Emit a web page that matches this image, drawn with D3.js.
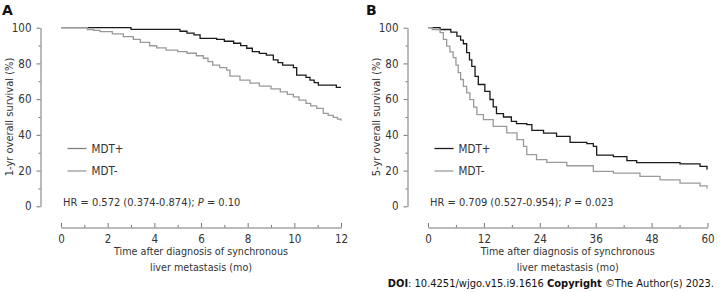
<!DOCTYPE html>
<html>
<head>
<meta charset="utf-8">
<script src="https://cdn.jsdelivr.net/npm/d3@7"></script>
<style>
  body { margin: 0; background: #fff; }
  svg text { font-family: "DejaVu Sans Condensed", "DejaVu Sans", sans-serif; fill: #333; }
</style>
</head>
<body>
<script>
/* DATA */

// panel A: 1-year overall survival
var timeA_plus = [0, 3.0, 5.1, 5.4, 5.7, 5.96, 6.67, 7.0, 7.4, 7.7, 7.96, 8.2, 8.5, 8.8, 9.1, 9.3, 9.5, 9.96, 10.1, 10.5, 10.67, 10.85, 11.03, 11.8, 12];
var survA_plus = [100, 99.1, 98, 97, 96, 94, 93.5, 92.4, 91.3, 90, 88.5, 86.6, 85.6, 84.7, 82, 80.5, 79, 77.6, 73.5, 72.2, 70.7, 69.3, 67.9, 66.6, 66.6];
var timeA_minus = [0, 1.13, 1.4, 1.67, 2.2, 2.67, 3.1, 3.4, 3.8, 4.1, 4.5, 5.0, 5.4, 5.8, 6.1, 6.3, 6.5, 6.8, 7.1, 7.24, 7.67, 8.1, 8.5, 9.0, 9.4, 9.7, 9.96, 10.2, 10.5, 10.7, 10.96, 11.24, 11.45, 11.67, 11.85, 12];
var survA_minus = [100, 99, 98.5, 97.8, 96.5, 95, 93.5, 91.8, 89.9, 88.7, 87.5, 86.6, 85.7, 84.3, 82.9, 81, 79.1, 77.7, 76.3, 72.9, 70.7, 69, 67.3, 65.7, 64.1, 62.7, 61.3, 59.4, 57.6, 56.2, 54.8, 52, 50.9, 49.8, 48.8, 47.9];

// panel B: 5-year overall survival
var timeB_plus = [0, 2.6, 4.9, 6.2, 7.0, 7.6, 8.3, 8.9, 9.4, 10.1, 10.8, 12.2, 13.3, 14.0, 14.7, 16.2, 17.9, 19, 21.2, 22.3, 24.8, 27.6, 30.5, 34.1, 35.5, 36.2, 39.8, 42.7, 44.8, 54.1, 58.4, 59.9, 60];
var survB_plus = [100, 99, 97.5, 95.3, 93, 91, 86, 82, 78.4, 72.8, 68.2, 64.4, 59.8, 55.7, 51.9, 50, 47.6, 46.3, 45.7, 42.5, 41, 39.2, 35.8, 35.1, 33.6, 28.7, 27.8, 25.6, 24.5, 23.7, 22.3, 20.8, 20.8];
var timeB_minus = [0, 0.9, 2.6, 3.3, 4.0, 4.7, 5.4, 6.0, 6.5, 7.0, 7.6, 8.3, 9.0, 9.8, 10.5, 11.9, 14.0, 16.9, 19.1, 20.5, 21.2, 23.3, 25.5, 29.8, 35.5, 39.8, 45.5, 49.8, 54.1, 58.4, 59.9, 60];
var survB_minus = [100, 99, 97.2, 93.5, 89.7, 86.5, 83.2, 79, 74.8, 71, 67.2, 63.5, 59.7, 55.5, 51.3, 48.5, 44.8, 41.1, 37.3, 33.6, 28.9, 26.1, 24.6, 22.7, 19.5, 18.6, 16.7, 14.8, 13, 11.4, 10.2, 10.2];

var groups = ['MDT+', 'MDT-'];
var yTicks = [0, 20, 40, 60, 80, 100];
var xTicksA = [0, 2, 4, 6, 8, 10, 12];
var xTicksB = [0, 12, 24, 36, 48, 60];

var panels = [
  { letter: 'A', ylabel: '1-yr overall survival (%)', xmax: 12, xticks: xTicksA, minorStep: 1,
    hr: ['HR = 0.572 (0.374-0.874); ', ' = 0.10'],
    series: [[timeA_plus, survA_plus], [timeA_minus, survA_minus]],
    legendColors: ['#808080', '#999999'],
    letterX: 2, axisX: 40.5, x0: 61, x1: 341 },
  { letter: 'B', ylabel: '5-yr overall survival (%)', xmax: 60, xticks: xTicksB, minorStep: 6,
    hr: ['HR = 0.709 (0.527-0.954); ', ' = 0.023'],
    series: [[timeB_plus, survB_plus], [timeB_minus, survB_minus]],
    legendColors: ['#1a1a1a', '#999999'],
    letterX: 366, axisX: 407.5, x0: 428, x1: 707.5 }
];

/* STYLE */
var lineColors = ['#1a1a1a', '#9a9a9a'];
var axisColor = '#777';
var yTop = 27.7, yBottom = 206.3, xAxisY = 227.5;
var tickFont = '"DejaVu Sans Condensed", "DejaVu Sans", sans-serif';

const svg = d3.select('body').append('svg')
    .attr('width', 720)
    .attr('height', 292);

panels.forEach(p => {
  const g = svg.append('g');

  const x = d3.scaleLinear().domain([0, p.xmax]).range([p.x0, p.x1]);
  const y = d3.scaleLinear().domain([0, 100]).range([yBottom, yTop]);

  // panel letter
  g.append('text')
    .attr('x', p.letterX)
    .attr('y', 15)
    .style('font-family', '"DejaVu Sans", sans-serif')
    .style('font-weight', 'bold')
    .style('font-size', '14px')
    .style('fill', '#111')
    .text(p.letter);

  // y axis, major + minor ticks
  const yAxisG = g.append('g').attr('transform', `translate(${p.axisX},0)`);
  yAxisG.call(d3.axisLeft(y).tickValues(yTicks).tickSizeInner(4).tickSizeOuter(0).tickPadding(5));
  yAxisG.append('g').call(d3.axisLeft(y).tickValues([10, 30, 50, 70, 90]).tickSize(2).tickFormat(''))
    .select('.domain').remove();
  yAxisG.selectAll('line, path').attr('stroke', axisColor);
  yAxisG.selectAll('text').style('font-size', '11.5px').style('fill', '#333').style('font-family', tickFont);

  // x axis, ticks pointing up
  const minor = d3.range(p.minorStep, p.xmax, p.minorStep).filter(v => p.xticks.indexOf(v) < 0);
  const xAxisG = g.append('g').attr('transform', `translate(0,${xAxisY})`);
  xAxisG.call(d3.axisBottom(x).tickValues(p.xticks).tickSizeInner(-4.5).tickSizeOuter(0).tickPadding(7));
  xAxisG.append('g').call(d3.axisBottom(x).tickValues(minor).tickSizeInner(-2.5).tickSizeOuter(0).tickFormat(''))
    .select('.domain').remove();
  xAxisG.selectAll('line, path').attr('stroke', axisColor);
  xAxisG.selectAll('text').style('font-size', '11.5px').style('fill', '#333').style('font-family', tickFont);

  // axis titles
  g.append('text')
    .attr('transform', `translate(${p.axisX - 28},${(yTop + yBottom) / 2}) rotate(-90)`)
    .attr('text-anchor', 'middle')
    .style('font-size', '11px')
    .text(p.ylabel);

  const xc = (p.x0 + p.x1) / 2;
  g.append('text').attr('x', xc).attr('y', 255).attr('text-anchor', 'middle')
    .style('font-size', '10.7px').text('Time after diagnosis of synchronous');
  g.append('text').attr('x', xc).attr('y', 271).attr('text-anchor', 'middle')
    .style('font-size', '10.7px').text('liver metastasis (mo)');

  // survival curves (Kaplan-Meier steps)
  const line = d3.line()
    .x(d => x(d[0]))
    .y(d => y(d[1]))
    .curve(d3.curveStepAfter);

  p.series.forEach((s, i) => {
    g.append('path')
      .datum(d3.zip(s[0], s[1]))
      .attr('fill', 'none')
      .attr('stroke', lineColors[i])
      .attr('stroke-width', 1.3)
      .attr('d', line);
  });

  // legend
  const lx = p.x0 + 6.5;
  groups.forEach((name, i) => {
    const ly = 148.5 + i * 22.5;
    g.append('line')
      .attr('x1', lx).attr('x2', lx + 19)
      .attr('y1', ly).attr('y2', ly)
      .attr('stroke', p.legendColors[i])
      .attr('stroke-width', 1.3);
    g.append('text')
      .attr('x', lx + 24).attr('y', ly + 4)
      .style('font-size', '11.5px')
      .text(name);
  });

  // hazard ratio annotation
  const hr = g.append('text')
    .attr('x', p.x0 + 2).attr('y', 206)
    .style('font-size', '11px');
  hr.append('tspan').text(p.hr[0]);
  hr.append('tspan').style('font-style', 'italic').text('P');
  hr.append('tspan').text(p.hr[1]);
});

// source line
const src = svg.append('text')
  .attr('x', 714).attr('y', 287)
  .attr('text-anchor', 'end')
  .style('font-size', '11px')
  .style('fill', '#111');
src.append('tspan').style('font-weight', 'bold').text('DOI');
src.append('tspan').text(': 10.4251/wjgo.v15.i9.1616 ');
src.append('tspan').style('font-weight', 'bold').text('Copyright');
src.append('tspan').text(' \u00A9The Author(s) 2023.');
</script>
</body>
</html>
